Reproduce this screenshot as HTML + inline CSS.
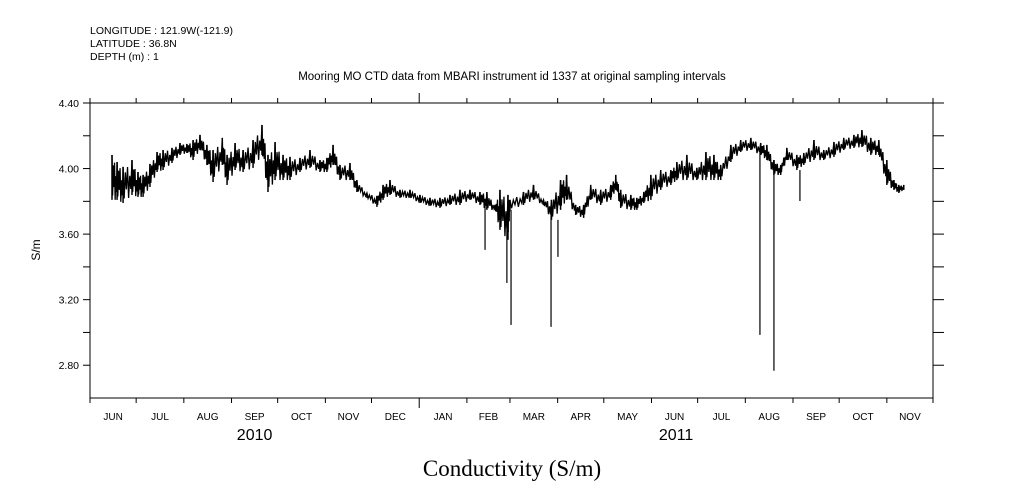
<!DOCTYPE html>
<html><head><meta charset="utf-8"><style>
html,body{margin:0;padding:0;background:#fff;}
svg{display:block;font-family:"Liberation Sans",sans-serif;}
</style></head><body>
<svg id="chart" width="1009" height="504" viewBox="0 0 1009 504">
<g font-size="10.5" fill="#000">
<text x="90" y="34">LONGITUDE : 121.9W(-121.9)</text>
<text x="90" y="47">LATITUDE : 36.8N</text>
<text x="90" y="60">DEPTH (m) : 1</text>
</g>
<text x="512" y="80" text-anchor="middle" font-size="11.5">Mooring MO CTD data from MBARI instrument id 1337 at original sampling intervals</text>
<g id="axes"></g>
<g id="series"></g>
<text x="40" y="250" transform="rotate(-90 40 250)" text-anchor="middle" font-size="12">S/m</text>
<text x="512" y="476" text-anchor="middle" font-size="23" font-family="Liberation Serif,serif">Conductivity (S/m)</text>
</svg>
<script>
const days=[14.3,17.6,21.5,27.3,31.2,34.5,39,43.6,47.5,53.3,58.5,63,67,71.5,76,80,86,89.1,94.3,99.5,106,111.8,115.7,120.3,125.5,130,136.5,143,149.5,154,158,162.5,169,173.5,180,186.5,190.5,195,201.5,208,214.5,221,227.5,234,240.5,247,253.5,258,263.3,266.5,271.7,273,281.8,288.3,294.8,300,305.9,309.8,315.7,320.9,325.5,332,338.5,341.8,345,351.6,355.5,360,364.6,371,377.6,381.5,388,394.5,400.4,405.6,410,416.6,423,429.6,436,440,444.6,449,453,459.5,464,470.6,477,483.6,490,496.6,501.8,507.6,512.8,518,522.6,525.8,529];
const hiVals=[4.083,4.040,4.010,4.052,3.979,3.961,4.028,4.101,4.113,4.126,4.156,4.150,4.174,4.205,4.144,4.113,4.187,4.083,4.156,4.113,4.174,4.266,4.083,4.162,4.083,4.071,4.065,4.113,4.052,4.065,4.144,4.022,4.034,3.930,3.851,3.833,3.900,3.930,3.870,3.870,3.839,3.821,3.821,3.839,3.870,3.870,3.857,3.857,3.778,3.870,3.839,3.809,3.857,3.900,3.809,3.809,3.930,3.961,3.778,3.778,3.900,3.870,3.900,3.961,3.870,3.839,3.821,3.857,3.961,3.991,3.991,4.040,4.083,4.004,4.101,4.083,4.022,4.144,4.174,4.187,4.156,4.144,4.052,4.022,4.126,4.083,4.095,4.174,4.113,4.162,4.187,4.205,4.235,4.187,4.174,4.052,3.930,3.900,3.900];
const loVals=[3.809,3.809,3.790,3.839,3.827,3.827,3.888,3.979,3.991,4.034,4.083,4.095,4.052,4.113,4.022,3.918,4.022,3.900,3.991,3.979,4.004,4.083,3.857,3.930,3.930,3.930,3.979,4.004,3.979,3.979,4.022,3.930,3.930,3.857,3.821,3.766,3.809,3.839,3.821,3.821,3.790,3.772,3.760,3.778,3.778,3.809,3.778,3.748,3.748,3.626,3.565,3.748,3.778,3.809,3.778,3.687,3.748,3.809,3.717,3.699,3.809,3.778,3.809,3.870,3.760,3.748,3.748,3.790,3.809,3.870,3.900,3.930,3.930,3.930,3.930,3.930,3.930,4.040,4.101,4.113,4.083,4.052,3.961,3.961,4.052,3.991,4.022,4.052,4.052,4.071,4.113,4.126,4.132,4.083,4.083,3.900,3.870,3.851,3.870];
const spikeDays=[256.8,271,273.7,299.7,304.2,435.5,444.6,461.5];
const spikeVals=[3.504,3.302,3.046,3.034,3.461,2.985,2.766,3.802];
const yTicks=[4.4,4.2,4.0,3.8,3.6,3.4,3.2,3.0,2.8];
const yLabels=["4.40","","4.00","","3.60","","3.20","","2.80"];
const months=["JUN","JUL","AUG","SEP","OCT","NOV","DEC","JAN","FEB","MAR","APR","MAY","JUN","JUL","AUG","SEP","OCT","NOV"];
const monthStarts=[0,30,61,92,122,153,183,214,245,273,304,334,365,395,426,457,487,518,548];
const years=["2010","2011"];
const yearCenters=[107,381];

const L=90,R=933,T=103,B=398,DMAX=548,VMIN=2.6,VMAX=4.4;
const xs=d=>L+(d/DMAX)*(R-L);
const ys=v=>B-(v-VMIN)/(VMAX-VMIN)*(B-T);
const NS="http://www.w3.org/2000/svg";
function mk(tag,attrs,parent){const e=document.createElementNS(NS,tag);for(const k in attrs)e.setAttribute(k,attrs[k]);parent.appendChild(e);return e;}
const ax=document.getElementById('axes');
const frame=mk('rect',{x:L,y:T,width:R-L,height:B-T,fill:'none',stroke:'#000','stroke-width':1},ax);


yTicks.forEach((v,i)=>{
  const y=ys(v);
  const t=mk('line',{x1:L-7,x2:L,y1:y,y2:y,stroke:'#000'},ax);
  
  
  const t2=mk('line',{x1:R,x2:R+11,y1:y,y2:y,stroke:'#000'},ax);
  
  
  if(yLabels[i]){
    const tx=mk('text',{x:L-11,y:y+4,'text-anchor':'end','font-size':10.5},ax);
    tx.textContent=yLabels[i];
    
    
  }
});
monthStarts.forEach((d,i)=>{
  const x=xs(d);const big=(d===214);
  const t=mk('line',{x1:x,x2:x,y1:B,y2:B+(big?10:5),stroke:'#000'},ax);
  
  
  const t2=mk('line',{x1:x,x2:x,y1:T,y2:T-(big?10:5),stroke:'#000'},ax);
  
  
  if(i<months.length){
    const tx=mk('text',{x:xs((d+monthStarts[i+1])/2),y:B+22,'text-anchor':'middle','font-size':10},ax);
    tx.textContent=months[i];
    
    
  }
});
years.forEach((yr,i)=>{
  const tx=mk('text',{x:xs(yearCenters[i]),y:B+42,'text-anchor':'middle','font-size':16},ax);
  tx.textContent=yr;
  
  
});
const sg=document.getElementById('series');
let pts=[];
const fr=[0,0.12,0.25,0.37,0.5,0.62,0.75,0.87];
const mix=[1,0.1,0.8,0.3,0.9,0.0,0.6,0.2];
days.forEach((d,i)=>{
  const nd=i<days.length-1?days[i+1]:d;
  const nh=i<days.length-1?hiVals[i+1]:hiVals[i];
  const nl=i<days.length-1?loVals[i+1]:loVals[i];
  fr.forEach((f,k)=>{
    const h=hiVals[i]+(nh-hiVals[i])*f, l=loVals[i]+(nl-loVals[i])*f;
    pts.push(xs(d+(nd-d)*f)+','+ys(l+(h-l)*mix[k]));
  });
});
const line=mk('polyline',{points:pts.join(' '),fill:'none',stroke:'#000','stroke-width':1.3},sg);


days.forEach((d,i)=>{
  const b=mk('line',{x1:xs(d),x2:xs(d),y1:ys(hiVals[i]),y2:ys(loVals[i]),stroke:'#000','stroke-width':1.5},sg);
  
  
});
spikeDays.forEach((d,i)=>{
  let j=0;while(j<days.length-1&&days[j+1]<d)j++;
  const s=mk('line',{x1:xs(d),x2:xs(d),y1:ys(loVals[j]),y2:ys(spikeVals[i]),stroke:'#000','stroke-width':1.2},sg);
  
  
});
</script>
</body></html>
